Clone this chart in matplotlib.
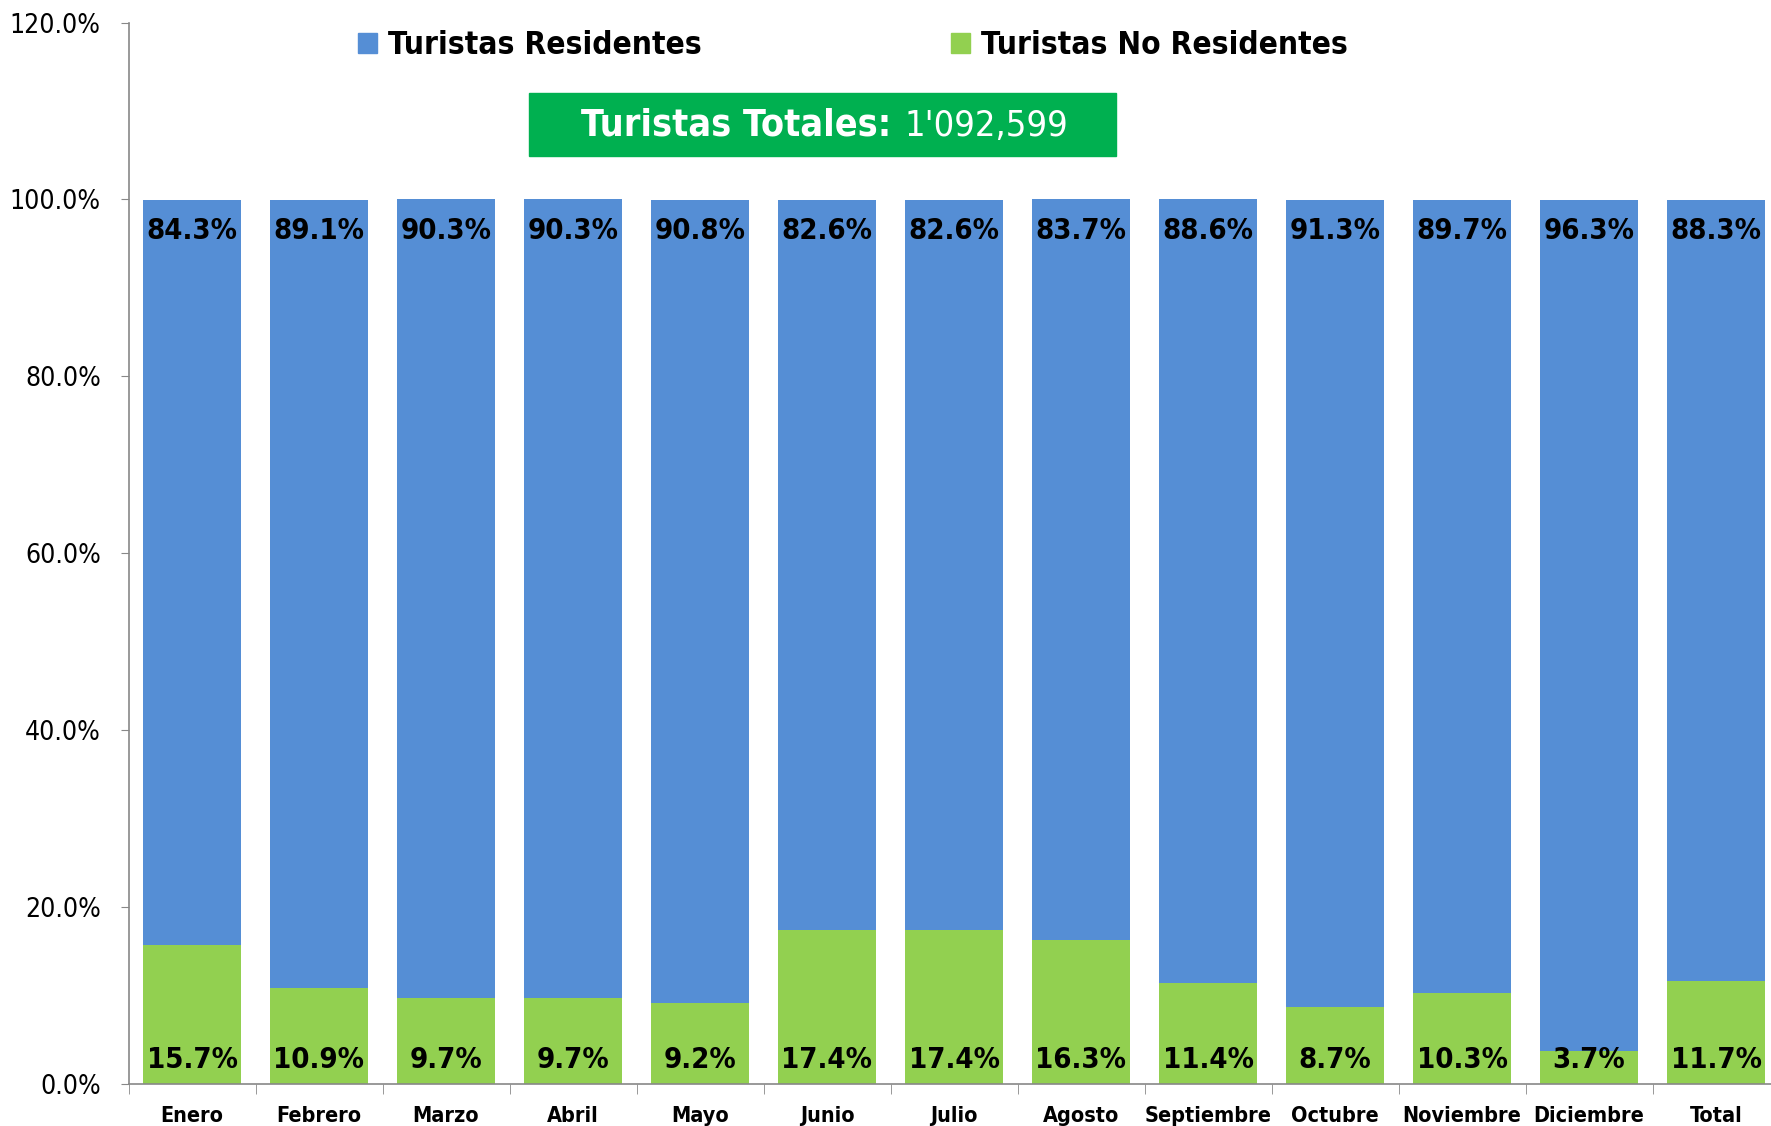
import matplotlib.pyplot as plt
from matplotlib.patches import Patch, Rectangle
import numpy as np

meses = ['Enero', 'Febrero', 'Marzo', 'Abril', 'Mayo', 'Junio', 'Julio',
         'Agosto', 'Septiembre', 'Octubre', 'Noviembre', 'Diciembre', 'Total']
residentes = [84.3, 89.1, 90.3, 90.3, 90.8, 82.6, 82.6, 83.7, 88.6, 91.3, 89.7, 96.3, 88.3]
no_residentes = [15.7, 10.9, 9.7, 9.7, 9.2, 17.4, 17.4, 16.3, 11.4, 8.7, 10.3, 3.7, 11.7]
total_turistas = "1'092,599"

azul = '#558ED5'
verde = '#92D050'
caja = '#00B050'

plt.rcParams['font.family'] = ['DejaVu Sans']
plt.rcParams['font.stretch'] = 'condensed'

fig = plt.figure(figsize=(17.71, 11.26), dpi=100)
ax = fig.add_axes([128.5 / 1771, 42 / 1126, 1651 / 1771, 1061.4 / 1126])

x = np.arange(len(meses))
ax.bar(x, no_residentes, width=0.77, color=verde, edgecolor='none')
ax.bar(x, residentes, width=0.77, bottom=no_residentes, color=azul, edgecolor='none')

for i in range(len(meses)):
    ax.text(x[i], 96.4, f'{residentes[i]:.1f}%', ha='center', va='center',
            fontsize=21, fontweight='bold')
    ax.text(x[i], 2.7, f'{no_residentes[i]:.1f}%', ha='center', va='center',
            fontsize=21, fontweight='bold')

ax.set_xlim(-0.5, len(meses) - 0.5)
ax.set_ylim(0, 120)
ax.set_yticks(np.arange(0, 121, 20))
ax.set_yticklabels([f'{v:.1f}%' for v in np.arange(0, 121, 20)], fontsize=19)
ax.set_xticks(x)
ax.set_xticklabels(meses, fontsize=15.5, fontweight='bold')
ax.set_xticks(np.arange(-0.5, len(meses), 1), minor=True)
ax.tick_params(axis='x', which='major', length=0, pad=16)
ax.tick_params(axis='x', which='minor', length=7, color='#888888', direction='out')
ax.tick_params(axis='y', length=6, color='#888888', pad=14)

for s in ['top', 'right']:
    ax.spines[s].set_visible(False)
for s in ['left', 'bottom']:
    ax.spines[s].set_color('#888888')
    ax.spines[s].set_linewidth(1.2)

handles = [Patch(color=azul, label='Turistas Residentes'),
           Patch(color=verde, label='Turistas No Residentes')]
fig.legend(handles=handles, ncol=2, loc='center left',
           bbox_to_anchor=(358 / 1771, 1 - 46 / 1126), frameon=False,
           prop={'size': 22.7, 'weight': 'bold', 'stretch': 'condensed'},
           handlelength=0.6, handleheight=0.6, handletextpad=0.35,
           columnspacing=7.9, borderpad=0, borderaxespad=0)

fig.patches.append(Rectangle((529 / 1771, 1 - 156 / 1126), 587 / 1771, 63 / 1126,
                             transform=fig.transFigure, color=caja, zorder=5))
fig.text(891 / 1771, 1 - 126 / 1126, 'Turistas Totales:', ha='right', va='center',
         color='white', fontsize=27, fontweight='bold', zorder=6)
fig.text(904 / 1771, 1 - 126 / 1126, total_turistas, ha='left', va='center',
         color='white', fontsize=26, zorder=6)

plt.savefig('out.png', dpi=100)
